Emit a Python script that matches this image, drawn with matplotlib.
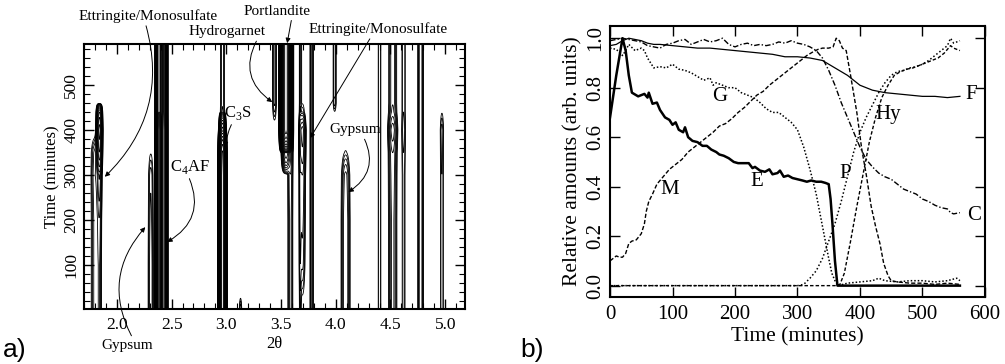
import numpy as np
from matplotlib import pyplot as plt
from matplotlib.ticker import MultipleLocator

plt.rcParams['font.family'] = ['Liberation Serif', 'DejaVu Serif']
plt.rcParams['mathtext.fontset'] = 'custom'
plt.rcParams['mathtext.rm'] = 'Liberation Serif'

# ---- panel a: peak positions (2theta), widths and intensity vs time ----
t_nodes = [0, 30, 100, 200, 300, 350, 400, 440, 460, 590]
peak_pos = [1.80, 1.84, 2.31, 2.385, 2.43, 2.965, 3.13, 3.44, 3.585, 3.545,
            3.675, 3.695, 3.78, 3.99, 4.09, 4.40, 4.52, 4.62, 4.775, 4.97]
peak_width = [0.024, 0.013, 0.016, 0.012, 0.012, 0.014, 0.008, 0.013, 0.016, 0.019,
              0.006, 0.017, 0.011, 0.011, 0.024, 0.011, 0.024, 0.014, 0.015, 0.012]
peak_amp = [
    [0.3, 0.3, 0.3, 0.3, 0.35, 0.3, 0, 0, 0, 0],
    [0.3, 0.3, 0.3, 0.4, 0.8, 2.5, 4.0, 2.0, 0, 0],
    [0.35, 0.35, 0.35, 0.3, 0.25, 0.1, 0, 0, 0, 0],
    [25, 25, 25, 25, 25, 25, 25, 22, 22, 22],
    [20, 20, 20, 20, 20, 20, 20, 18, 18, 18],
    [20, 20, 20, 20, 20, 18, 4, 0.3, 0.25, 0.25],
    [0.3, 0.08, 0, 0, 0, 0, 0, 0, 0, 0],
    [0, 0, 0, 0, 0, 0, 0, 0.2, 0.3, 0.3],
    [0.3, 0.3, 0.3, 0.3, 0.35, 0.4, 0.4, 0.4, 0.4, 0.4],
    [0, 0, 0, 0, 0, 2, 60, 60, 60, 60],
    [0.2, 0.2, 0.2, 0.2, 0.2, 0.2, 0.2, 0.2, 0.2, 0.2],
    [0.05, 0.1, 0.3, 0.4, 0.5, 0.8, 1.0, 0.2, 0.1, 0.1],
    [0.3, 0.3, 0.3, 0.3, 0.3, 0.3, 0.3, 0.3, 0.3, 0.3],
    [0, 0, 0, 0, 0, 0, 0, 0.1, 0.25, 0.25],
    [0.5, 0.5, 0.5, 0.5, 0.4, 0.12, 0, 0, 0, 0],
    [0.2, 0.2, 0.2, 0.2, 0.2, 0.2, 0.2, 0.2, 0.2, 0.2],
    [0.4, 0.4, 0.4, 0.4, 0.45, 0.5, 0.8, 0.4, 0.35, 0.35],
    [0.17, 0.17, 0.17, 0.17, 0.17, 0.2, 0.25, 0.2, 0.2, 0.2],
    [0.5, 0.5, 0.5, 0.5, 0.5, 0.5, 0.5, 0.5, 0.5, 0.5],
    [0.2, 0.2, 0.2, 0.2, 0.2, 0.22, 0.25, 0.1, 0, 0],
]
contour_levels = [0.11, 0.15, 0.2, 0.27, 0.36, 0.5, 0.65, 0.85, 1.1, 1.5, 2.0, 2.6,
                  3.4, 4.5, 6, 8, 10, 13, 17, 22, 29, 38, 50]

# ---- panel b: relative amounts vs time ----
E_t = [0, 10, 20, 25, 30, 35, 45, 55, 60, 62, 68, 75, 80, 88, 95, 100, 105, 110, 117,
       120, 125, 132, 140, 148, 155, 162, 170, 175, 182, 190, 198, 205, 215, 222, 228,
       232, 240, 248, 255, 260, 268, 272, 278, 285, 292, 300, 308, 315, 322, 330, 338,
       345, 350, 353, 356, 360, 364, 400, 450, 500, 560]
E_v = [0.68, 0.85, 1.0, 0.95, 0.85, 0.78, 0.765, 0.775, 0.76, 0.78, 0.735, 0.74, 0.71,
       0.68, 0.67, 0.65, 0.66, 0.63, 0.62, 0.64, 0.60, 0.585, 0.58, 0.565, 0.565, 0.55,
       0.54, 0.53, 0.525, 0.515, 0.50, 0.495, 0.495, 0.495, 0.475, 0.48, 0.465, 0.46,
       0.47, 0.45, 0.455, 0.465, 0.44, 0.445, 0.435, 0.43, 0.425, 0.42, 0.425, 0.42,
       0.42, 0.415, 0.41, 0.35, 0.25, 0.10, 0.0, 0.0, 0.0, 0.0, 0.0]

M_t = [0, 5, 10, 15, 20, 25, 30, 35, 42, 50, 55, 58, 62, 68, 75, 85, 95, 105, 115, 125,
       135, 145, 155, 165, 175, 185, 195, 205, 215, 225, 235, 245, 255, 265, 275, 285,
       295, 305, 315, 325, 333, 340, 350, 357, 362, 367, 372, 378, 385, 395, 403, 410,
       418, 425, 432, 438, 445, 450, 460, 480, 500, 520, 540, 560]
M_v = [0.10, 0.11, 0.12, 0.115, 0.115, 0.13, 0.17, 0.18, 0.185, 0.21, 0.25, 0.30, 0.34,
       0.37, 0.41, 0.44, 0.47, 0.49, 0.51, 0.54, 0.56, 0.58, 0.60, 0.62, 0.645, 0.655,
       0.675, 0.70, 0.72, 0.745, 0.77, 0.785, 0.81, 0.83, 0.85, 0.87, 0.89, 0.91, 0.93,
       0.945, 0.955, 0.96, 0.96, 0.965, 1.0, 0.99, 0.96, 0.95, 0.85, 0.70, 0.55, 0.45,
       0.32, 0.24, 0.17, 0.09, 0.04, 0.02, 0.015, 0.01, 0.01, 0.005, 0.01, 0.005]

G_t = [0, 10, 20, 25, 30, 40, 50, 55, 60, 65, 70, 80, 90, 100, 110, 120, 130, 140, 150,
       160, 165, 170, 180, 190, 200, 210, 220, 230, 240, 250, 260, 270, 280, 290, 300,
       310, 320, 330, 340, 350, 355, 360, 365, 380, 400, 420, 430, 440, 460, 480, 500,
       520, 540, 555, 560]
G_v = [0.96, 0.955, 0.93, 0.95, 0.975, 0.95, 0.96, 0.95, 0.92, 0.90, 0.88, 0.885, 0.88,
       0.895, 0.875, 0.87, 0.86, 0.845, 0.83, 0.84, 0.81, 0.82, 0.81, 0.80, 0.80, 0.78,
       0.77, 0.76, 0.74, 0.715, 0.70, 0.70, 0.68, 0.66, 0.63, 0.56, 0.47, 0.37, 0.24,
       0.11, 0.05, 0.02, 0.0, 0.01, 0.015, 0.02, 0.03, 0.02, 0.015, 0.02, 0.02, 0.015,
       0.02, 0.03, 0.02]

C_t = [0, 10, 20, 30, 40, 50, 60, 70, 80, 90, 100, 110, 120, 130, 140, 150, 160, 170,
       180, 190, 200, 210, 220, 230, 240, 250, 260, 270, 280, 290, 300, 310, 320, 330,
       340, 350, 360, 370, 380, 390, 400, 410, 420, 430, 440, 450, 460, 470, 480, 490,
       500, 510, 520, 530, 540, 545, 550, 560]
C_v = [0.99, 0.995, 1.0, 0.995, 0.99, 0.985, 0.97, 0.965, 0.96, 0.975, 0.98, 0.99, 0.995,
       0.975, 0.985, 0.995, 0.985, 0.99, 1.0, 0.975, 0.965, 0.975, 0.98, 0.97, 0.975,
       0.97, 0.975, 0.985, 0.98, 0.99, 0.98, 0.975, 0.965, 0.95, 0.92, 0.87, 0.81, 0.74,
       0.68, 0.62, 0.56, 0.51, 0.48, 0.455, 0.44, 0.43, 0.41, 0.39, 0.38, 0.37, 0.35,
       0.34, 0.325, 0.315, 0.31, 0.295, 0.29, 0.295]

F_t = [0, 10, 20, 30, 40, 50, 60, 70, 80, 100, 120, 140, 160, 180, 200, 220, 240, 260,
       280, 300, 320, 340, 360, 380, 400, 420, 430, 440, 460, 480, 500, 520, 540, 560]
F_v = [0.97, 0.975, 0.99, 1.0, 0.995, 0.99, 0.98, 0.975, 0.975, 0.97, 0.965, 0.96, 0.96,
       0.955, 0.95, 0.945, 0.94, 0.935, 0.925, 0.925, 0.92, 0.91, 0.88, 0.85, 0.81, 0.79,
       0.785, 0.78, 0.775, 0.77, 0.765, 0.765, 0.76, 0.765]

P_t = [0, 100, 200, 300, 310, 320, 330, 340, 350, 360, 370, 380, 390, 400, 410, 420, 430,
       440, 450, 460, 470, 480, 490, 500, 510, 520, 530, 540, 545, 550, 560]
P_v = [0, 0, 0, 0, 0.005, 0.03, 0.06, 0.11, 0.18, 0.25, 0.34, 0.44, 0.54, 0.62, 0.68,
       0.73, 0.78, 0.82, 0.85, 0.865, 0.87, 0.88, 0.885, 0.895, 0.91, 0.93, 0.95, 0.97,
       1.0, 0.98, 0.99]

Hy_t = [0, 100, 200, 300, 360, 368, 375, 385, 395, 405, 415, 425, 435, 445, 455, 465, 475,
        485, 495, 505, 515, 525, 535, 545, 550, 560]
Hy_v = [0, 0, 0, 0, 0, 0.005, 0.05, 0.18, 0.32, 0.45, 0.58, 0.68, 0.76, 0.81, 0.85, 0.865,
        0.875, 0.88, 0.89, 0.90, 0.91, 0.92, 0.94, 0.97, 0.96, 0.95]


def set_ticks(ax, size):
    ax.tick_params(which='both', direction='in', top=True, right=True)
    ax.tick_params(which='major', length=7, width=1)
    ax.tick_params(which='minor', length=4, width=0.8)
    ax.tick_params(axis='y', labelrotation=90)
    for lbl in ax.get_xticklabels() + ax.get_yticklabels():
        lbl.set_fontfamily('Liberation Serif')
        lbl.set_fontsize(size)
    for lbl in ax.get_yticklabels():
        lbl.set_va('center')
    for s in ax.spines.values():
        s.set_linewidth(1.5)


def draw_contours(ax):
    x = np.linspace(1.70, 5.18, 1600)
    t = np.linspace(0, 590, 300)
    X, T = np.meshgrid(x, t)
    Z = np.zeros_like(X)
    for pos, w, amp in zip(peak_pos, peak_width, peak_amp):
        a = np.interp(t, t_nodes, amp)[:, None]
        Z += a * np.exp(-(X - pos) ** 2 / (2 * w ** 2))
    ax.contour(X, T, Z, levels=contour_levels, colors='black', linewidths=0.6)
    ax.set_xlim(1.70, 5.18)
    ax.set_ylim(2, 591)
    ax.xaxis.set_minor_locator(MultipleLocator(0.1))
    ax.yaxis.set_minor_locator(MultipleLocator(20))
    ax.set_yticks([100, 200, 300, 400, 500])
    ax.set_xticks([2.0, 2.5, 3.0, 3.5, 4.0, 4.5, 5.0])
    ax.set_xticklabels(['2.0', '2.5', '3.0', '3.5', '4.0', '4.5', '5.0'])
    ax.tick_params(axis='x', pad=6)
    ax.set_ylabel('Time (minutes)', fontsize=12, labelpad=2)
    ax.set_xlabel('2θ', fontsize=12, labelpad=2)
    set_ticks(ax, 12.5)

    arrow = dict(arrowstyle='-|>', color='black', lw=0.7, mutation_scale=7, shrinkA=0, shrinkB=0)
    fs = 11
    ax.annotate('Ettringite/Monosulfate', xy=(1.89, 296), xytext=(2.285, 653),
                fontsize=fs, ha='center', va='center', annotation_clip=False,
                arrowprops=dict(arrow, connectionstyle='arc3,rad=-0.3', relpos=(0.48, 0.0)))
    ax.annotate('Hydrogarnet', xy=(3.42, 462), xytext=(3.007, 618),
                fontsize=fs, ha='center', va='center', annotation_clip=False,
                arrowprops=dict(arrow, connectionstyle='arc3,rad=0.45', relpos=(0.9, 0.0)))
    ax.annotate('Portlandite', xy=(3.556, 593), xytext=(3.464, 664),
                fontsize=fs, ha='center', va='center', annotation_clip=False,
                arrowprops=dict(arrow, connectionstyle='arc3,rad=0', relpos=(0.72, 0.0)))
    ax.annotate('Ettringite/Monosulfate', xy=(3.766, 382), xytext=(4.39, 624),
                fontsize=fs, ha='center', va='center', annotation_clip=False,
                arrowprops=dict(arrow, connectionstyle='arc3,rad=0', relpos=(0.45, 0.0)))
    ax.annotate('C$_3$S', xy=(2.99, 362), xytext=(3.11, 438),
                fontsize=fs + 1, ha='center', va='center', annotation_clip=False,
                arrowprops=dict(arrow, connectionstyle='arc3,rad=0.1', relpos=(0.3, 0.0)))
    ax.annotate('C$_4$AF', xy=(2.46, 151), xytext=(2.67, 318),
                fontsize=fs + 1, ha='center', va='center', annotation_clip=False,
                arrowprops=dict(arrow, connectionstyle='arc3,rad=-0.45', relpos=(0.45, 0.0)))
    ax.annotate('Gypsum', xy=(4.115, 262), xytext=(4.18, 400),
                fontsize=fs, ha='center', va='center', annotation_clip=False,
                arrowprops=dict(arrow, connectionstyle='arc3,rad=-0.45', relpos=(0.65, 0.0)))
    ax.annotate('Gypsum', xy=(2.26, 184), xytext=(2.09, -78),
                fontsize=fs, ha='center', va='center', annotation_clip=False,
                arrowprops=dict(arrow, connectionstyle='arc3,rad=-0.35', relpos=(0.62, 1.0)))


def draw_amounts(ax):
    ax.plot(E_t, E_v, color='black', lw=1.8, ls='-')
    ax.plot(M_t, M_v, color='black', lw=1.0, ls=(0, (3, 1.5)))
    ax.plot(G_t, G_v, color='black', lw=1.1, ls=(0, (1, 1.3)))
    ax.plot(C_t, C_v, color='black', lw=1.0, ls=(0, (4, 1.5, 1, 1.5)))
    ax.plot(F_t, F_v, color='black', lw=0.9, ls='-')
    ax.plot(P_t, P_v, color='black', lw=1.1, ls=(0, (1, 1.5)))
    ax.plot(Hy_t, Hy_v, color='black', lw=1.0, ls=(0, (2.5, 1.5)))

    fs = 15
    for txt, tx, ty in [('G', 176, 0.764), ('E', 235, 0.42), ('M', 96, 0.387),
                        ('P', 376, 0.455), ('Hy', 445, 0.69), ('F', 578, 0.772),
                        ('C', 582, 0.282)]:
        ax.text(tx, ty, txt, fontsize=fs, ha='center', va='center')

    ax.set_xlim(0, 600)
    ax.set_ylim(-0.046, 1.05)
    ax.set_xticks([0, 100, 200, 300, 400, 500, 600])
    ax.set_yticks([0.0, 0.2, 0.4, 0.6, 0.8, 1.0])
    ax.set_yticklabels(['0.0', '0.2', '0.4', '0.6', '0.8', '1.0'])
    ax.tick_params(axis='x', pad=6)
    ax.set_xlabel('Time (minutes)', fontsize=15.5, labelpad=2)
    ax.set_ylabel('Relative amounts (arb. units)', fontsize=15.5, labelpad=3)
    set_ticks(ax, 15)


fig = plt.figure(figsize=(10.05, 3.64), dpi=100)
ax1 = fig.add_axes([0.0836, 0.151, 0.379, 0.728])
ax2 = fig.add_axes([0.607, 0.184, 0.373, 0.745])

draw_contours(ax1)
draw_amounts(ax2)

fig.text(0.003, 0.02, 'a)', family='Liberation Sans', fontsize=19)
fig.text(0.518, 0.02, 'b)', family='Liberation Sans', fontsize=19)

fig.savefig('out.png', dpi=100)
